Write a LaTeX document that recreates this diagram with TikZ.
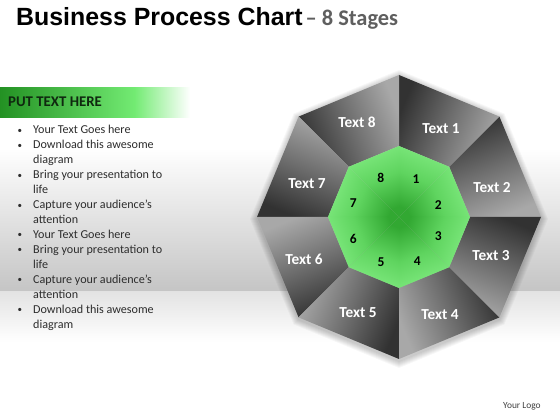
\documentclass[tikz,border=0pt]{standalone}
\usepackage{fontspec}
\setmainfont{Carlito}
\newfontfamily\titlefont{Liberation Sans}
\begin{document}
\begin{tikzpicture}[x=1pt,y=1pt]
\definecolor{outL}{RGB}{168,168,168}
\definecolor{outM}{RGB}{110,110,110}
\definecolor{outD}{RGB}{50,50,50}
\definecolor{inL}{RGB}{128,234,128}
\definecolor{inM}{RGB}{95,212,95}
\definecolor{inD}{RGB}{50,168,50}
\definecolor{banD}{RGB}{35,145,35}
\definecolor{banL}{RGB}{115,235,115}
\definecolor{subgray}{RGB}{95,95,95}
\definecolor{bodygray}{RGB}{45,45,45}
\tikzset{
  outlabel/.style={text=white, font=\fontsize{15.3}{17}\selectfont\bfseries, inner sep=0pt},
  numlabel/.style={text=black, font=\fontsize{13.5}{15}\selectfont\bfseries, inner sep=0pt},
}
\newcommand{\blt}{\makebox[16.5pt][l]{\hspace{1pt}\raisebox{0.6pt}{\fontsize{9}{9}\selectfont•}}}
\newcommand{\nob}{\makebox[16.5pt][l]{}}
\useasboundingbox (0,0) rectangle (560,420);
% background: wall and floor
\fill[white] (0,0) rectangle (560,420);
\shade[top color=white, bottom color=black!23] (0,128) rectangle (560,272);
\shade[top color=black!11, bottom color=white] (0,128) rectangle (560,78);
% title
\node[anchor=base west, inner sep=0pt] (title) at (16,394)
  {\titlefont\fontsize{24.9}{28}\selectfont\bfseries Business Process Chart\hspace{3pt}{\fontspec{Carlito}\color{subgray}\fontsize{22.4}{26}\selectfont\bfseries – 8 Stages}};
% banner
\shade[left color=banD, right color=banL] (0,302) rectangle (135,332);
\shade[left color=banL, right color=white] (134.5,302) rectangle (190,332);
\node[anchor=base west, inner sep=0pt, text={rgb,255:red,15;green,40;blue,15}] (banner) at (8,313)
  {\fontsize{14.8}{16}\selectfont\bfseries PUT TEXT HERE};
% bullets
\node[anchor=base west, inner sep=0pt, text=bodygray] (list) at (16.5,286)
  {\parbox[t]{200pt}{\fontsize{12.1}{14.93}\selectfont
   \blt Your Text Goes here\\
   \blt Download this awesome\\
   \nob diagram\\
   \blt Bring your presentation to\\
   \nob life\\
   \blt Capture your audience’s\\
   \nob attention\\
   \blt Your Text Goes here\\
   \blt Bring your presentation to\\
   \nob life\\
   \blt Capture your audience’s\\
   \nob attention\\
   \blt Download this awesome\\
   \nob diagram}};
% octagon shadow
\begin{scope}[shift={(399,201)}]
  \foreach \k in {1,...,7}
    \fill[black, opacity=0.03] (0:142+\k) -- (45:142+\k) -- (90:142+\k) -- (135:142+\k)
      -- (180:142+\k) -- (225:142+\k) -- (270:142+\k) -- (315:142+\k) -- cycle;
\end{scope}
% octagon
\begin{scope}[shift={(399,203)}]
  \foreach \a [evaluate=\a as \po using \a+202.5, evaluate=\a as \pin using \a-67.5] in {0,45,...,315} {
    \shade[top color=outL, bottom color=outD, middle color=outM, shading angle=\po]
      (\a:71) -- (\a:142) -- (\a+45:142) -- (\a+45:71) -- cycle;
    \shade[top color=inL, bottom color=inD, middle color=inM, shading angle=\pin]
      (0,0) -- (\a:71) -- (\a+45:71) -- cycle;
  }
\end{scope}
% outer labels
\node[outlabel] (t1) at (441,291) {Text 1};
\node[outlabel] (t2) at (492,232) {Text 2};
\node[outlabel] (t3) at (491,164) {Text 3};
\node[outlabel] (t4) at (440,105) {Text 4};
\node[outlabel] (t5) at (358,107) {Text 5};
\node[outlabel] (t6) at (304,161) {Text 6};
\node[outlabel] (t7) at (307,236) {Text 7};
\node[outlabel] (t8) at (357,298) {Text 8};
% inner numbers
\node[numlabel] (n1) at (416,240.7) {1};
\node[numlabel] (n2) at (438.3,215) {2};
\node[numlabel] (n3) at (438.3,184.3) {3};
\node[numlabel] (n4) at (417.3,159.3) {4};
\node[numlabel] (n5) at (381,157.7) {5};
\node[numlabel] (n6) at (353.3,180.7) {6};
\node[numlabel] (n7) at (353.3,216.7) {7};
\node[numlabel] (n8) at (380.7,241.7) {8};
% logo
\node[anchor=base west, inner sep=0pt, text=black!75] (logo) at (503,11.5) {\fontsize{9.4}{11}\selectfont Your Logo};
\end{tikzpicture}
\end{document}
